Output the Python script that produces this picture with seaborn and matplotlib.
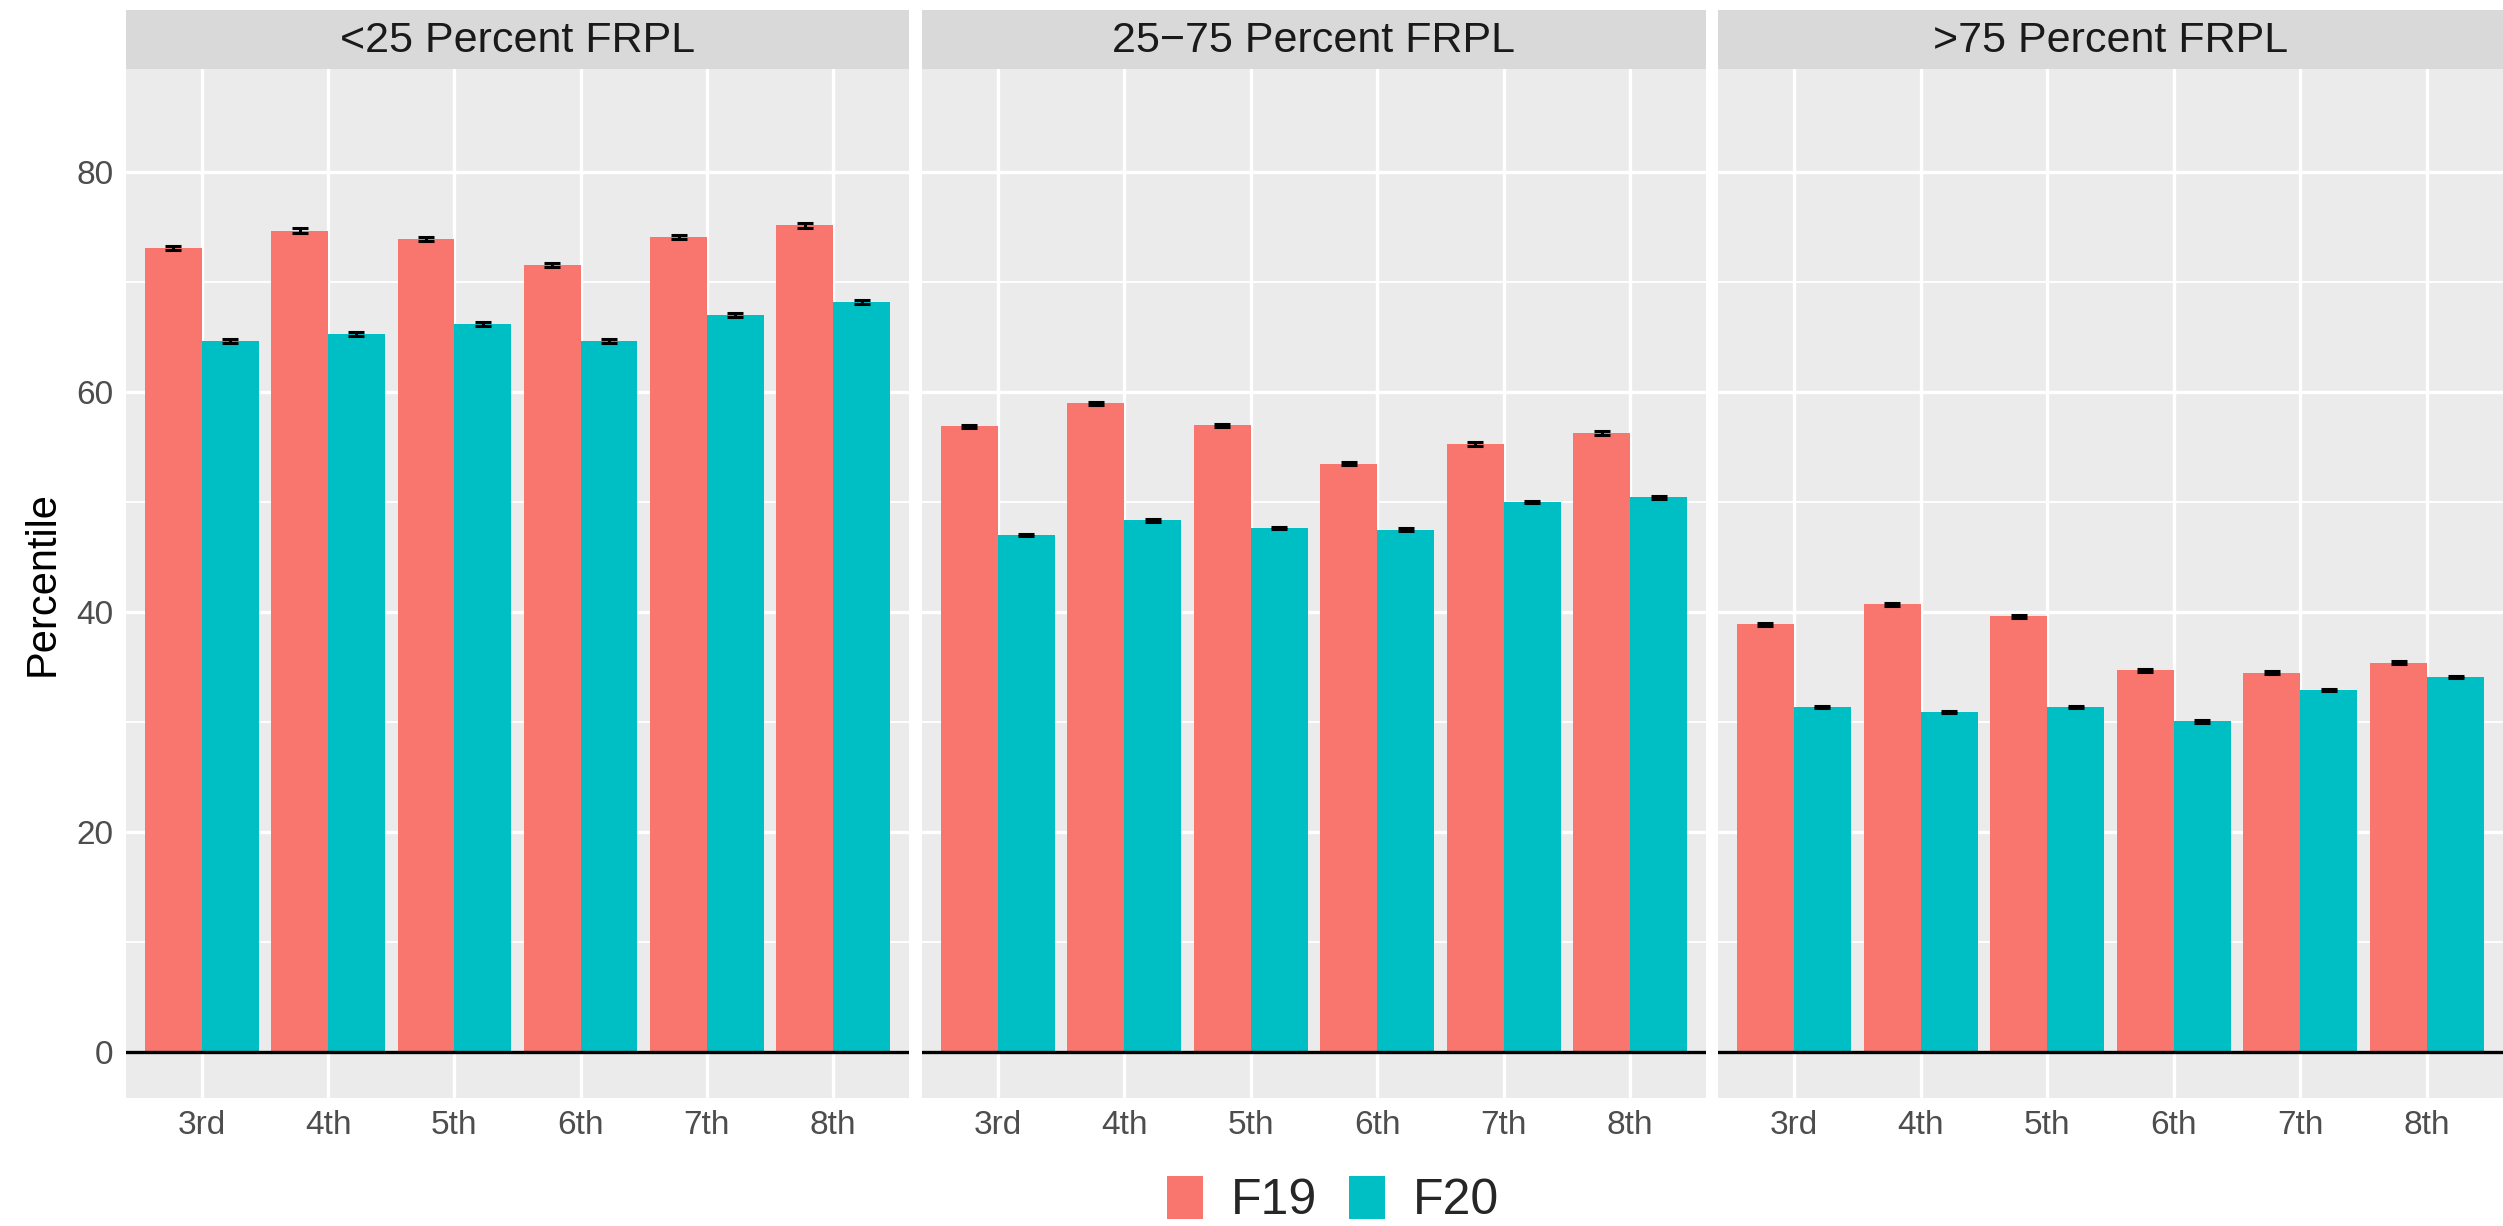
import numpy as np
import pandas as pd
import matplotlib
matplotlib.use("Agg")
import matplotlib.pyplot as plt
import seaborn as sns
from matplotlib.patches import Patch
from matplotlib.ticker import MultipleLocator

# Grades and school poverty groups
grades = ["3rd", "4th", "5th", "6th", "7th", "8th"]
groups = ["<25 Percent FRPL", "25\u221275 Percent FRPL", ">75 Percent FRPL"]
terms = ["F19", "F20"]

# Mean percentile by grade, for each group and term
f19_low = [73.1, 74.7, 73.9, 71.6, 74.1, 75.2]
f20_low = [64.7, 65.3, 66.2, 64.7, 67.0, 68.2]
f19_mid = [56.9, 59.0, 57.0, 53.5, 55.3, 56.3]
f20_mid = [47.0, 48.35, 47.65, 47.5, 50.0, 50.45]
f19_high = [38.9, 40.7, 39.6, 34.7, 34.5, 35.4]
f20_high = [31.35, 30.9, 31.35, 30.05, 32.9, 34.1]

# Standard errors of the means
se_f19_low = [0.18, 0.2, 0.18, 0.18, 0.2, 0.22]
se_f20_low = [0.18, 0.15, 0.18, 0.18, 0.2, 0.22]
se_f19_mid = [0.15, 0.15, 0.15, 0.12, 0.15, 0.15]
se_f20_mid = [0.12, 0.15, 0.12, 0.12, 0.12, 0.12]
se_f19_high = [0.15, 0.12, 0.15, 0.15, 0.15, 0.15]
se_f20_high = [0.12, 0.12, 0.12, 0.12, 0.12, 0.12]

series = {
    groups[0]: (f19_low, f20_low, se_f19_low, se_f20_low),
    groups[1]: (f19_mid, f20_mid, se_f19_mid, se_f20_mid),
    groups[2]: (f19_high, f20_high, se_f19_high, se_f20_high),
}

rows = []
for g, (a, b, ea, eb) in series.items():
    for i, gr in enumerate(grades):
        rows.append(dict(group=g, grade=gr, term="F19", pct=a[i], se=ea[i]))
        rows.append(dict(group=g, grade=gr, term="F20", pct=b[i], se=eb[i]))
df = pd.DataFrame(rows)

palette = {"F19": "#F8766D", "F20": "#00BFC4"}

sns.set_theme(style="white")
plt.rcParams["font.family"] = ["Liberation Sans", "DejaVu Sans"]

W, H = 2503, 1226
fig = plt.figure(figsize=(W / 100, H / 100), dpi=100)

panel_top, panel_bottom = 69, 1098
strip_top = 10
panel_x = [(126, 909), (922, 1706), (1718, 2503)]

for k, g in enumerate(groups):
    x0, x1 = panel_x[k]
    ax = fig.add_axes([x0 / W, 1 - panel_bottom / H, (x1 - x0) / W,
                       (panel_bottom - panel_top) / H])
    sub = df[df["group"] == g]
    sns.barplot(data=sub, x="grade", y="pct", hue="term", order=grades,
                hue_order=terms, palette=palette, width=0.9, gap=0,
                saturation=1, errorbar=None, legend=False, ax=ax,
                linewidth=0, zorder=2)
    # error bars at the centre of each drawn bar
    for term, cont in zip(terms, ax.containers):
        errs = sub[sub["term"] == term].set_index("grade").loc[grades, "se"].values
        xs = [p.get_x() + p.get_width() / 2 for p in cont]
        ys = [p.get_height() for p in cont]
        ax.errorbar(xs, ys, yerr=errs, fmt="none", ecolor="black",
                    elinewidth=2.2, capsize=5.5, capthick=2.2, zorder=4)
    ax.axhline(0, color="black", lw=2.4, zorder=5)

    ax.set_facecolor("#EBEBEB")
    ax.set_xlim(-0.6, 5.6)
    ax.set_ylim(-4.2, 89.4)
    ax.yaxis.set_major_locator(MultipleLocator(20))
    ax.yaxis.set_minor_locator(MultipleLocator(10))
    ax.set_axisbelow(True)
    ax.grid(which="major", color="white", lw=2.4, zorder=0)
    ax.grid(which="minor", axis="y", color="white", lw=1.3, zorder=0)
    for s in ax.spines.values():
        s.set_visible(False)
    ax.set_xlabel("")
    ax.tick_params(axis="x", which="major", length=5, width=2,
                   color="#333333", labelsize=24, labelcolor="#4D4D4D", pad=4)
    ax.tick_params(axis="y", which="minor", length=0)
    if k == 0:
        ax.tick_params(axis="y", which="major", length=5, width=2,
                       color="#333333", labelsize=24, labelcolor="#4D4D4D", pad=4)
        ax.set_ylabel("Percentile", fontsize=30, color="black", labelpad=10)
    else:
        ax.tick_params(axis="y", which="major", length=0, labelleft=False)
        ax.set_ylabel("")

    # facet strip
    sax = fig.add_axes([x0 / W, 1 - panel_top / H, (x1 - x0) / W,
                        (panel_top - strip_top) / H])
    sax.set_facecolor("#D9D9D9")
    sax.set_xticks([])
    sax.set_yticks([])
    for s in sax.spines.values():
        s.set_visible(False)
    sax.text(0.5, 0.47, g, ha="center", va="center", fontsize=31,
             color="#1A1A1A", transform=sax.transAxes)

handles = [Patch(facecolor=palette[t], edgecolor="none", label=t) for t in terms]
fig.legend(handles=handles, loc="center", ncol=2,
           bbox_to_anchor=(1333 / W, 1 - 1200 / H), frameon=False,
           fontsize=36, handlelength=0.72, handleheight=0.95,
           handletextpad=0.55, columnspacing=0.65, borderaxespad=0)

fig.savefig("out.png", dpi=100, facecolor="white")
